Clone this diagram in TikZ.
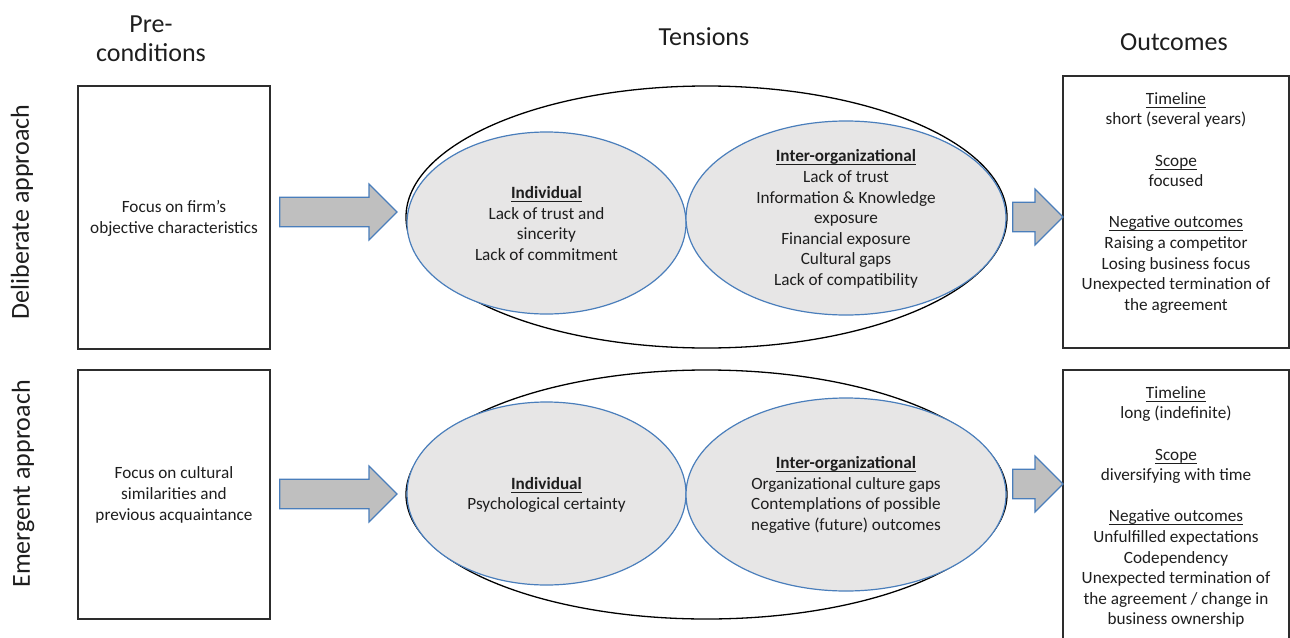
\documentclass[tikz,border=0pt]{standalone}
\usepackage{fontspec}
\setmainfont{Carlito}
\usetikzlibrary{shapes.geometric, calc}

\definecolor{ovalfill}{RGB}{231,230,230}
\definecolor{ovalline}{RGB}{74,126,187}
\definecolor{arrowfill}{RGB}{191,191,191}
\definecolor{boxline}{RGB}{45,45,45}
\definecolor{ink}{RGB}{30,30,30}

\tikzset{
  head/.style={font=\fontsize{13}{14.5}\selectfont, align=center, inner sep=0pt, text=ink},
  body/.style={font=\fontsize{8.6}{10.3}\selectfont, align=center, inner sep=0pt, text=ink},
  frame/.style={draw=boxline, line width=.75pt, inner sep=0pt},
  oval/.style={ellipse, draw=ovalline, fill=ovalfill, line width=.6pt, inner sep=0pt},
  bigoval/.style={ellipse, draw=black, line width=.65pt, inner sep=0pt},
  fatarr/.style={draw=ovalline, fill=arrowfill, line width=.6pt, line join=miter},
}

% underline just below the baseline
\newcommand{\ulin}[1]{\underline{\raisebox{0pt}[\height][0pt]{#1}}}

% block arrow from the x of #1 to the tip #2
\newcommand{\fatarrow}[2]{%
  \draw[fatarr] let \p1=(#1), \p2=(#2) in
    (\x1,\y2+7.4pt) -- (\x2-14pt,\y2+7.4pt) -- (\x2-14pt,\y2+14pt) -- (\x2,\y2)
    -- (\x2-14pt,\y2-14pt) -- (\x2-14pt,\y2-7.4pt) -- (\x1,\y2-7.4pt) -- cycle;}

\begin{document}
\begin{tikzpicture}[x=.5pt, y=-.5pt]
  \useasboundingbox (0,0) rectangle (1290,637);
  \clip (0,0) rectangle (1290,637);

  % column and row titles
  \node[head] (pre) at (151,39) {Pre-\\conditions};
  \node[head] (tens) at (704,37) {Tensions};
  \node[head] (outc) at (1174,42) {Outcomes};
  \node[head, rotate=90] (delib) at (22,212) {Deliberate approach};
  \node[head, rotate=90] (emerg) at (23,484) {Emergent approach};

  % pre-conditions
  \node[frame, minimum width=96pt, minimum height=131.5pt] (pre1) at (174,217.5) {};
  \node[body] (pre1t) at (174,218.5) {Focus on firm's\\objective characteristics};
  \node[frame, minimum width=96pt, minimum height=124.5pt] (pre2) at (174,494.5) {};
  \node[body] (pre2t) at (174,495) {Focus on cultural\\similarities and\\previous acquaintance};

  % tensions
  \node[bigoval, minimum width=300.5pt, minimum height=131pt] (outer1) at (706.5,217) {};
  \node[bigoval, minimum width=300.5pt, minimum height=124.5pt] (outer2) at (706.5,494.5) {};
  \node[oval, minimum width=139.5pt, minimum height=91pt] (indiv1) at (546.5,223) {};
  \node[oval, minimum width=160pt, minimum height=97pt] (inter1) at (846,218) {};
  \node[oval, minimum width=139.5pt, minimum height=91.5pt] (indiv2) at (546.5,493.5) {};
  \node[oval, minimum width=160pt, minimum height=96.5pt] (inter2) at (846,494.5) {};
  \node[body] (indiv1t) at (546.5,223.5) {\textbf{\ulin{Individual}}\\Lack of trust and\\sincerity\\Lack of commitment};
  \node[body] (inter1t) at (846,219) {\textbf{\ulin{Inter-organizational}}\\Lack of trust\\Information \& Knowledge\\exposure\\Financial exposure\\Cultural gaps\\Lack of compatibility};
  \node[body] (indiv2t) at (546.5,495) {\textbf{\ulin{Individual}}\\Psychological certainty};
  \node[body] (inter2t) at (846,495) {\textbf{\ulin{Inter-organizational}}\\Organizational culture gaps\\Contemplations of possible\\negative (future) outcomes};

  % outcomes
  \node[frame, minimum width=113pt, minimum height=136pt] (out1) at (1176,212) {};
  \node[frame, minimum width=113pt, minimum height=145pt] (out2) at (1176,515) {};
  \node[body, anchor=north] (out1t) at (1176,92) {\ulin{Timeline}\\short (several years)\\[10.3pt]\ulin{Scope}\\focused\\[10.3pt]\ulin{Negative outcomes}\\Raising a competitor\\Losing business focus\\Unexpected termination of\\the agreement};
  \node[body, anchor=north] (out2t) at (1176,386) {\ulin{Timeline}\\long (indefinite)\\[10.3pt]\ulin{Scope}\\diversifying with time\\[10.3pt]\ulin{Negative outcomes}\\Unfulfilled expectations\\Codependency\\Unexpected termination of\\the agreement / change in\\business ownership};

  % block arrows
  \coordinate (a1e) at (397,212);
  \coordinate (a2e) at (397,494);
  \coordinate (a3e) at (1063,217);
  \coordinate (a4e) at (1063,484);
  \fatarrow{[xshift=4.5pt]pre1.east}{a1e}
  \fatarrow{[xshift=4.5pt]pre2.east}{a2e}
  \fatarrow{[xshift=2.5pt]outer1.east}{a3e}
  \fatarrow{[xshift=2.5pt]outer2.east}{a4e}
\end{tikzpicture}
\end{document}
